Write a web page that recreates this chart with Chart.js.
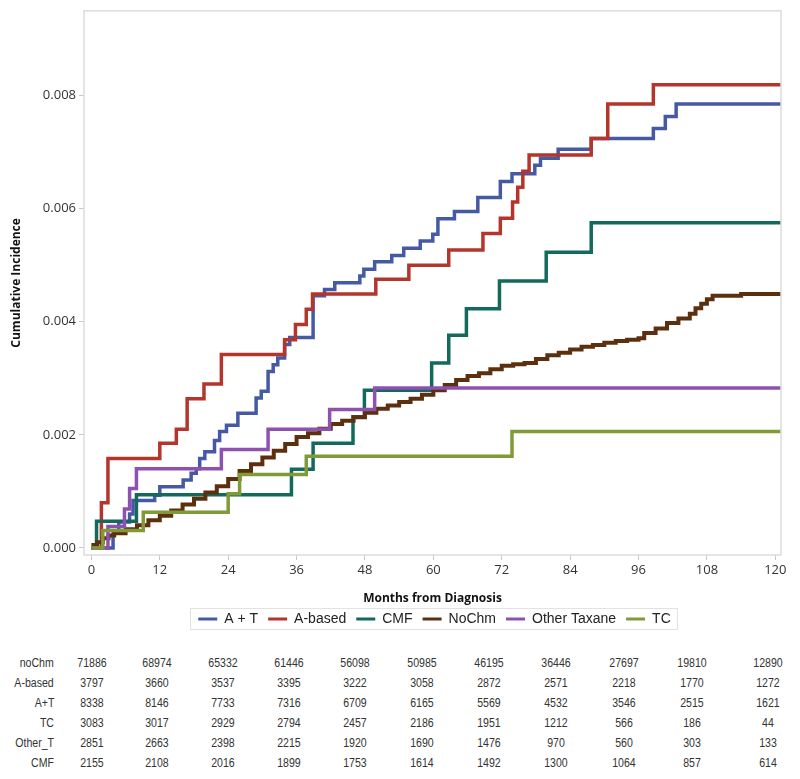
<!DOCTYPE html>
<html>
<head>
<meta charset="utf-8">
<script src="https://cdn.jsdelivr.net/npm/chart.js@4.4.1/dist/chart.umd.min.js"></script>
<style>
  body { margin: 0; background: #fff; }
  #wrap { position: relative; width: 800px; height: 779px; overflow: hidden; }
  #c { position: absolute; left: 0; top: 0; }
  .cell { position: absolute; font-family: "Liberation Sans", Arial, sans-serif; font-size: 12px; color: #333; line-height: 14px; white-space: nowrap; }
</style>
</head>
<body>
<div id="wrap">
  <canvas id="c" width="800" height="645"></canvas>
  <div id="risk"></div>
</div>
<script>
// cumulative incidence step curves: month of each jump and the level after it
var atMonths = [0, 3.8, 4.8, 6.7, 7.3, 11.1, 12, 16.1, 17.5, 18.4, 19, 19.9, 21.6, 22.5, 23.7, 25.7, 28.9, 29.8, 31, 31.9, 32.7, 33.9, 34.8, 38.9, 40.9, 42.7, 47.1, 47.8, 49.7, 52.7, 54.8, 57.7, 59.9, 60.8, 63.7, 67.8, 71.75, 73.8, 77.8, 78.8, 81.9, 87.7, 98.6, 100.7, 102.6, 121];
var atValues = [0, 0.00026, 0.00046, 0.0006, 0.00084, 0.00093, 0.00108, 0.0012, 0.00132, 0.0014, 0.00158, 0.0017, 0.0019, 0.00206, 0.00217, 0.00238, 0.00265, 0.00277, 0.00312, 0.00324, 0.00336, 0.0036, 0.00372, 0.00446, 0.00457, 0.00469, 0.00481, 0.00493, 0.00506, 0.00517, 0.0053, 0.00543, 0.00555, 0.00582, 0.00595, 0.0062, 0.00648, 0.00662, 0.00677, 0.00689, 0.00705, 0.00724, 0.00742, 0.00763, 0.00785, 0.00785];

var aBasedMonths = [0, 1.75, 2.9, 12, 14.9, 16.8, 19.75, 22.8, 33.9, 35.8, 37.7, 38.8, 49.9, 55.7, 62.7, 68.7, 71.75, 73.9, 74.8, 75.7, 76.8, 87.7, 90.6, 98.6, 121];
var aBasedValues = [0, 0.0008, 0.00158, 0.00185, 0.0021, 0.00264, 0.0029, 0.00342, 0.00368, 0.00395, 0.00422, 0.00449, 0.00475, 0.005, 0.00527, 0.00556, 0.00583, 0.00612, 0.00638, 0.00666, 0.00695, 0.00724, 0.00785, 0.00819, 0.00819];

var cmfMonths = [0, 0.9, 7.9, 35.1, 38.9, 45.9, 47.9, 59.7, 62.7, 65.8, 71.6, 79.8, 87.7, 121];
var cmfValues = [0, 0.00047, 0.00094, 0.00139, 0.00185, 0.00232, 0.00279, 0.00327, 0.00376, 0.00423, 0.00472, 0.00523, 0.00575, 0.00575];

var noChmMonths = [0, 1, 2, 3, 4, 6, 8, 10, 12, 14, 16, 18, 20, 22, 24, 26, 28, 30, 32, 34, 36, 38, 40, 42, 44, 46, 48, 50, 52, 54, 56, 58, 60, 62, 64, 66, 68, 70, 72, 74, 76, 78, 80, 82, 84, 86, 88, 90, 92, 94, 96, 97, 99, 101, 103, 105, 106, 107, 108, 109, 114, 121];
var noChmValues = [0.00005, 0.0001, 0.00017, 0.00022, 0.00026, 0.00033, 0.0004, 0.00049, 0.00057, 0.00066, 0.00077, 0.00087, 0.00098, 0.00109, 0.00122, 0.00136, 0.00148, 0.0016, 0.00172, 0.00184, 0.00196, 0.00203, 0.00211, 0.00219, 0.00225, 0.00231, 0.00239, 0.00246, 0.00252, 0.00258, 0.00264, 0.00271, 0.00279, 0.00288, 0.00297, 0.00304, 0.00309, 0.00316, 0.00322, 0.00325, 0.00327, 0.00334, 0.00341, 0.00345, 0.00351, 0.00356, 0.00359, 0.00363, 0.00366, 0.00368, 0.00371, 0.0038, 0.00388, 0.00398, 0.00406, 0.00414, 0.00424, 0.00432, 0.0044, 0.00446, 0.00449, 0.00452];

var otherTaxMonths = [0, 2.9, 5.8, 6.7, 7.9, 22.8, 31, 41.8, 49.7, 121];
var otherTaxValues = [0, 0.00038, 0.00069, 0.00105, 0.0014, 0.00174, 0.0021, 0.00245, 0.00283, 0.00283];

var tcMonths = [0, 2.0, 9.1, 24, 26, 37.7, 73.8, 121];
var tcValues = [0, 0.00031, 0.00063, 0.00096, 0.0013, 0.00162, 0.00206, 0.00206];

var seriesNames = ["A + T", "A-based", "CMF", "NoChm", "Other Taxane", "TC"];
var xTicks = [0, 12, 24, 36, 48, 60, 72, 84, 96, 108, 120];
var yTicks = [0, 0.002, 0.004, 0.006, 0.008];

// numbers at risk
var riskLabels = ["noChm", "A-based", "A+T", "TC", "Other_T", "CMF"];
var riskNoChm = [71886, 68974, 65332, 61446, 56098, 50985, 46195, 36446, 27697, 19810, 12890];
var riskABased = [3797, 3660, 3537, 3395, 3222, 3058, 2872, 2571, 2218, 1770, 1272];
var riskAT = [8338, 8146, 7733, 7316, 6709, 6165, 5569, 4532, 3546, 2515, 1621];
var riskTC = [3083, 3017, 2929, 2794, 2457, 2186, 1951, 1212, 566, 186, 44];
var riskOtherT = [2851, 2663, 2398, 2215, 1920, 1690, 1476, 970, 560, 303, 133];
var riskCMF = [2155, 2108, 2016, 1899, 1753, 1614, 1492, 1300, 1064, 857, 614];

function pts(xs, ys) {
    var out = [];
    for (var i = 0; i < xs.length; i++) out.push({ x: xs[i], y: ys[i] });
    return out;
}

function stepSet(label, xs, ys, color, width, order) {
    return {
        label: label,
        data: pts(xs, ys),
        borderColor: color,
        backgroundColor: color,
        borderWidth: width,
        pointRadius: 0,
        stepped: "before",
        fill: false,
        order: order
    };
}

var frame = {
    id: "frame",
    afterUpdate(chart) {
        // centre the legend under the plot area rather than the whole canvas
        var lg = chart.legend;
        var tops = lg.legendHitBoxes.map(function (h) { return h.top; });
        lg.left = 88;
        lg.adjustHitBoxes();
        lg.legendHitBoxes.forEach(function (h, i) { h.top = tops[i]; });
    },
    afterDatasetsDraw(chart) {
        var a = chart.chartArea, ctx = chart.ctx;
        ctx.save();
        ctx.strokeStyle = "#dcdcdc";
        ctx.lineWidth = 1.5;
        ctx.strokeRect(a.left, a.top, a.right - a.left, a.bottom - a.top);
        ctx.restore();
    },
    afterDraw(chart) {
        var boxes = chart.legend.legendHitBoxes;
        if (!boxes || !boxes.length) return;
        var l = Infinity, r = -Infinity, t = Infinity, b = -Infinity;
        boxes.forEach(function (h) {
            l = Math.min(l, h.left); r = Math.max(r, h.left + h.width);
            t = Math.min(t, h.top); b = Math.max(b, h.top + h.height);
        });
        var ctx = chart.ctx;
        ctx.save();
        ctx.strokeStyle = "#e2e2e2";
        ctx.lineWidth = 1;
        ctx.strokeRect(Math.round(l) - 7.5, Math.round(t) - 3.5, Math.round(r - l) + 15, Math.round(b - t) + 7);
        ctx.restore();
    }
};

var tickFont = { family: "'Open Sans', 'Noto Sans', sans-serif", size: 13 };
var titleFont = { family: "'Open Sans', 'Noto Sans', sans-serif", size: 12, weight: "bold" };

new Chart(document.getElementById("c").getContext("2d"), {
    type: "line",
    data: {
        datasets: [
            stepSet(seriesNames[0], atMonths, atValues, "#4659a3", 3.5, 6),
            stepSet(seriesNames[1], aBasedMonths, aBasedValues, "#b3352b", 3.5, 5),
            stepSet(seriesNames[2], cmfMonths, cmfValues, "#12695c", 3.5, 4),
            stepSet(seriesNames[3], noChmMonths, noChmValues, "#5c300f", 4, 3),
            stepSet(seriesNames[4], otherTaxMonths, otherTaxValues, "#8d52b0", 3.5, 2),
            stepSet(seriesNames[5], tcMonths, tcValues, "#809a37", 3.5, 1)
        ]
    },
    options: {
        responsive: false,
        animation: false,
        layout: { padding: { left: 0, right: 19, top: 10, bottom: 9 } },
        plugins: {
            tooltip: { enabled: false },
            legend: {
                position: "bottom",
                labels: {
                    boxWidth: 19,
                    boxHeight: 3,
                    padding: 10,
                    color: "#222",
                    font: { family: "'Liberation Sans', Arial, sans-serif", size: 14 },
                    sort: function (a, b) { return a.datasetIndex - b.datasetIndex; },
                    generateLabels: function (chart) {
                        var items = Chart.defaults.plugins.legend.labels.generateLabels(chart);
                        items.forEach(function (it) { it.lineWidth = 0; });
                        return items;
                    }
                }
            }
        },
        scales: {
            x: {
                type: "linear",
                min: -1.3,
                max: 121,
                afterBuildTicks: function (s) { s.ticks = xTicks.map(function (v) { return { value: v }; }); },
                afterFit: function (s) { s.height = 47; },
                grid: { display: true, drawOnChartArea: false, drawTicks: true, tickLength: 5, color: "#c8c8c8" },
                border: { display: false },
                ticks: { color: "#333", font: tickFont, padding: 2, maxRotation: 0 },
                title: { display: true, text: "Months from Diagnosis", color: "#111", font: titleFont, padding: { top: 0, bottom: -4 } }
            },
            y: {
                type: "linear",
                min: -0.000125,
                max: 0.0095,
                afterBuildTicks: function (s) { s.ticks = yTicks.map(function (v) { return { value: v }; }); },
                afterFit: function (s) { s.width = 84; },
                grid: { display: true, drawOnChartArea: false, drawTicks: true, tickLength: 5, color: "#c8c8c8" },
                border: { display: false },
                ticks: { color: "#333", font: tickFont, padding: 3, callback: function (v) { return v.toFixed(3); } },
                title: { display: true, text: "Cumulative Incidence", color: "#111", font: titleFont, padding: { top: 9, bottom: 0 } }
            }
        }
    },
    plugins: [frame]
});

// number-at-risk table
var riskRows = [riskNoChm, riskABased, riskAT, riskTC, riskOtherT, riskCMF];
var colX = [92, 157, 223, 289, 355, 422, 489, 556, 624, 692, 768];
var host = document.getElementById("risk");
riskRows.forEach(function (row, r) {
    var top = 656 + r * 20;
    var lab = document.createElement("div");
    lab.className = "cell";
    lab.textContent = riskLabels[r];
    lab.style.top = top + "px";
    lab.style.right = (800 - 54) + "px";
    lab.style.transformOrigin = "right center";
    lab.style.transform = "scaleX(0.88)";
    host.appendChild(lab);
    row.forEach(function (n, c) {
        var d = document.createElement("div");
        d.className = "cell";
        d.textContent = n;
        d.style.top = top + "px";
        d.style.left = colX[c] + "px";
        d.style.transform = "translateX(-50%) scaleX(0.88)";
        host.appendChild(d);
    });
});
</script>
</body>
</html>
